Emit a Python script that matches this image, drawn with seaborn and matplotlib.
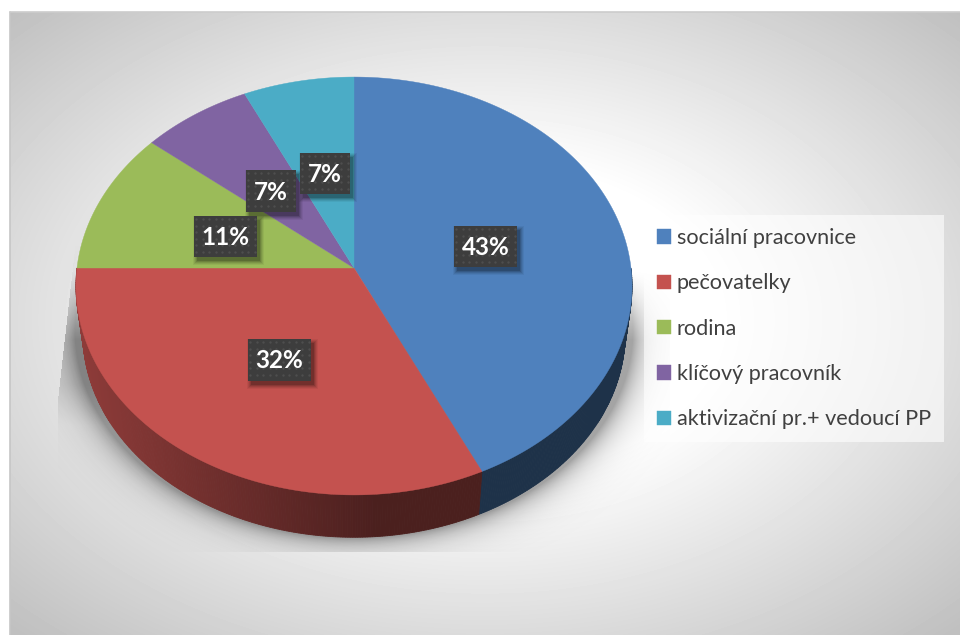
import numpy as np
import matplotlib
matplotlib.use("Agg")
import matplotlib.pyplot as plt
from matplotlib.patches import Rectangle
import seaborn as sns

# Data
categories = ["sociální pracovnice", "pečovatelky", "rodina", "klíčový pracovník", "aktivizační pr.+ vedoucí PP"]
shares = [43, 32, 11, 7, 7]
slice_colors = ["#4F81BD", "#C4524F", "#9BBB59", "#8064A2", "#4BACC6"]

sns.set_theme(style="white")
plt.rcParams["font.family"] = ["Lato", "DejaVu Sans"]
palette = sns.color_palette(slice_colors)

fig = plt.figure(figsize=(9.6, 6.35), dpi=100)
ax = fig.add_axes([0, 0, 1, 1])

# pie geometry in pixels, perspective tilt of the disc
CX, CY = 354, 268
SX, SY, TILT = 277, 207.4, 0.0861
RIM_SCALE, RIM_DROP = 0.975, 48


def project(theta):
    x, y = np.sin(theta), np.cos(theta)
    w = 1 + TILT * y
    return SX * x / w, SY * y / w


def top_rim(theta):
    px, py = project(theta)
    return CX + px, CY - py


def low_rim(theta):
    px, py = project(theta)
    return CX + RIM_SCALE * px, CY - RIM_SCALE * py + RIM_DROP


# ---------------------- BACKGROUND ---------------------- #
xx, yy = np.meshgrid(np.arange(10, 960) + 0.5, np.arange(12, 635) + 0.5)
r = np.sqrt(((xx - 485) / 475) ** 2 + ((yy - 320) / 310) ** 2) / np.sqrt(2)
bg = 1 - np.clip((r - 0.35) / 0.65, 0, 1) * 0.25
ax.imshow(bg, cmap="gray", vmin=0, vmax=1, extent=(10, 960, 635, 12), aspect="auto", zorder=0)
ax.plot([10, 10], [635, 12], color="#c6c6c6", lw=1.2, zorder=1)
ax.plot([10, 960], [12, 12], color="#cccccc", lw=1.2, zorder=1)

# soft shadow below the disc
sx, sy = np.meshgrid(np.arange(50, 670) + 0.5, np.arange(230, 552) + 0.5)
d = np.sqrt(((sx - 354) / 279) ** 2 + ((sy - 330) / 208) ** 2) - 1
alpha = 0.36 * np.exp(-np.clip(d, 0, None) / 0.055) * np.clip((sy - 270) / 70, 0, 1)
wedge = 0.07 * (sx < 354) * np.clip((sy - 240) / 100, 0, 1) * np.clip((425 - sy) / 40, 0, 1)
alpha = alpha + wedge
alpha[sx < 58 + np.clip(400 - sy, 0, None) * 0.113] = 0
shadow = np.zeros(sx.shape + (4,))
shadow[..., 3] = np.clip(alpha, 0, 1)
ax.imshow(shadow, extent=(50, 670, 552, 230), aspect="auto", zorder=2)

# ---------------------- PIE ---------------------- #
edges = np.cumsum([0] + shares) / sum(shares) * 2 * np.pi

# side wall, drawn as thin strips so that it can darken from left to right
for color, start, end in zip(palette, edges[:-1], edges[1:]):
    steps = np.linspace(start, end, max(int((end - start) * 120), 2))
    for a, b in zip(steps[:-1], steps[1:]):
        if np.cos((a + b) / 2) > 0:
            continue  # back of the disc, not visible
        x0, y0 = top_rim(a)
        x1, y1 = top_rim(b)
        x2, y2 = low_rim(b)
        x3, y3 = low_rim(a)
        shade = np.clip(0.72 - 0.33 * ((x0 + x1) / 2 - 80) / 290, 0.385, 0.72)
        side = tuple(c * shade for c in color)
        ax.fill([x0, x1, x2, x3], [y0, y1, y2, y3], color=side, lw=0.6, zorder=3)

# top face
handles = []
for name, color, start, end in zip(categories, palette, edges[:-1], edges[1:]):
    t = np.linspace(start, end, 200)
    px, py = top_rim(t)
    patch = ax.fill(np.r_[CX, px], np.r_[CY, py], color=color, lw=0.3, label=name, zorder=4)[0]
    handles.append(patch)

# ---------------------- DATA LABELS ---------------------- #
label_boxes = [(454, 226, 63, 41), (248, 339, 63, 42), (194, 216, 63, 41), (246, 170, 50, 42), (300, 153, 50, 41)]
for share, (bx, by, bw, bh) in zip(shares, label_boxes):
    for grow, a in [(4, 0.05), (3, 0.07), (2, 0.09), (1, 0.12), (0, 0.16)]:
        ax.add_patch(Rectangle((bx + 3 - grow, by + 4 - grow), bw + 2 * grow, bh + 2 * grow,
                               facecolor="black", edgecolor="none", alpha=a, zorder=5))
    ax.add_patch(Rectangle((bx, by), bw, bh, facecolor="#3d3d3d", edgecolor="none", zorder=6))
    gx, gy = np.meshgrid(np.arange(bx + 2, bx + bw, 6.5), np.arange(by + 3, by + bh, 6.5))
    ax.scatter(gx.ravel(), gy.ravel(), s=3, color="#4e4e4e", linewidths=0, zorder=7)
    ax.text(bx + bw / 2, by + bh / 2 + 1, f"{share}%", color="white", fontsize=17.5, fontweight="bold",
            ha="center", va="center", zorder=8)

# ---------------------- LEGEND ---------------------- #
ax.set_xlim(0, 960)
ax.set_ylim(635, 0)
ax.axis("off")

leg = ax.legend(handles=handles, loc="upper left", bbox_to_anchor=(644 / 960, 1 - 215 / 635),
                fontsize=15.6, frameon=True, fancybox=False, facecolor="white", edgecolor="none",
                framealpha=0.6, labelspacing=1.17, handlelength=0.64, handleheight=0.64,
                handletextpad=0.27, borderpad=0.6, borderaxespad=0)
leg.set_zorder(9)
for text in leg.get_texts():
    text.set_color("#404040")

fig.savefig("out.png", dpi=100, facecolor="white")
